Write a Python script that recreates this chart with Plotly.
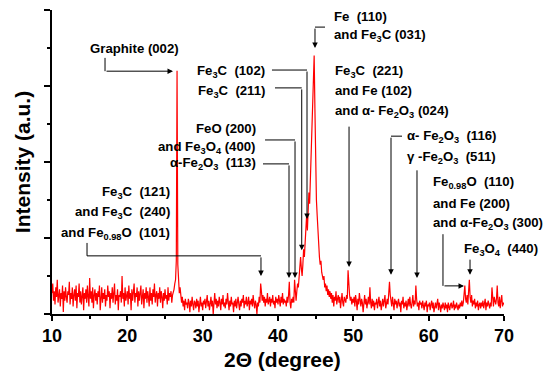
import numpy as np
import plotly.graph_objects as go

# ---- data: XRD pattern, 2-theta from 10 to 70 deg in 0.1 deg steps ----
two_theta = np.round(np.arange(10.0, 70.05, 0.1), 1)
intensity = [
    0.55, 0.8, 0.35, 0.6, 0.25, 0.7, 0.45, 0.9, 0.3, 0.5,      # 10
    0.65, 0.2, 0.55, 0.4, 0.75, 0.05, 0.6, 0.35, 0.7, 0.45,    # 11
    0.3, 0.6, 0.5, 0.85, 0.25, 0.55, 0.4, 0.7, 0.2, 0.5,       # 12
    0.65, 0.35, 0.75, 0.15, 0.55, 0.45, 0.8, 0.3, 0.6, 0.25,   # 13
    0.5, 0.7, 0.1, 0.55, 0.4, 0.65, 0.3, 0.75, 0.45, 0.2,      # 14
    0.95, 0.4, 0.6, 0.3, 0.7, 0.15, 0.5, 0.65, 0.35, 0.55,     # 15
    0.25, 0.6, 0.45, 0.75, 0.1, 0.5, 0.7, 0.3, 0.55, 0.4,      # 16
    0.65, 0.2, 0.5, 0.35, 0.75, 0.45, 0.6, 0.15, 0.55, 0.4,    # 17
    0.7, 0.3, 0.55, 0.8, 0.25, 0.5, 0.35, 0.65, 0.1, 0.5,      # 18
    0.45, 0.6, 0.3, 1.0, 0.4, 0.55, 0.2, 0.7, 0.35, 0.5,       # 19
    0.6, 0.25, 0.75, 0.4, 0.55, 0.1, 0.65, 0.35, 0.5, 0.8,     # 20
    0.3, 0.55, 0.45, 0.7, 0.2, 0.6, 0.35, 0.5, 0.75, 0.25,     # 21
    0.5, 0.65, 0.15, 0.55, 0.4, 0.7, 0.3, 0.6, 0.45, 0.2,      # 22
    0.7, 0.35, 0.55, 0.25, 0.65, 0.45, 0.8, 0.3, 0.5, 0.6,     # 23
    0.2, 0.55, 0.4, 0.7, 0.3, 0.6, 0.45, 0.15, 0.55, 0.35,     # 24
    0.65, 0.4, 0.5, 0.25, 0.7, 0.35, 0.55, 0.45, 0.6, 0.3,     # 25
    0.5, 0.55, 0.65, 0.8, 0.9, 1.4, 6.4, 1.3, 0.8, 0.55,       # 26
    0.7, 0.5, 0.3, 0.45, 0.2, 0.35, 0.1, 0.4, 0.25, 0.3,       # 27
    0.15, 0.4, 0.3, 0.05, 0.35, 0.2, 0.45, 0.25, 0.1, 0.35,    # 28
    0.3, 0.15, 0.4, 0.2, 0.35, 0.05, 0.3, 0.45, 0.2, 0.3,      # 29
    0.1, 0.35, 0.25, 0.4, 0.15, 0.3, 0.5, 0.2, 0.35, 0.1,      # 30
    0.3, 0.45, 0.2, 0.35, 0.0, 0.3, 0.55, 0.25, 0.4, 0.15,     # 31
    0.35, 0.2, 0.45, 0.3, 0.1, 0.4, 0.25, 0.5, 0.2, 0.3,       # 32
    0.15, 0.4, 0.25, 0.55, 0.3, 0.1, 0.35, 0.2, 0.45, 0.25,    # 33
    0.3, 0.05, 0.35, 0.2, 0.4, 0.15, 0.3, 0.45, 0.25, 0.1,     # 34
    0.35, 0.2, 0.4, 0.3, 0.5, 0.15, 0.35, 0.25, 0.45, 0.2,     # 35
    0.3, 0.45, 0.1, 0.35, 0.25, 0.4, 0.2, 0.5, 0.3, 0.15,      # 36
    0.35, 0.25, 0.0, 0.3, 0.2, 0.45, 0.3, 0.8, 0.6, 0.35,      # 37
    0.5, 0.3, 0.45, 0.2, 0.4, 0.3, 0.55, 0.25, 0.35, 0.45,     # 38
    0.2, 0.4, 0.3, 0.5, 0.25, 0.35, 0.15, 0.45, 0.3, 0.4,      # 39
    0.25, 0.5, 0.35, 0.2, 0.45, 0.3, 0.55, 0.25, 0.4, 0.3,     # 40
    0.35, 0.2, 0.45, 0.3, 0.5, 0.85, 0.3, 0.15, 0.4, 0.3,      # 41
    0.45, 0.3, 0.9, 0.5, 0.35, 0.6, 0.8, 0.7, 1.0, 1.2,        # 42
    1.5, 1.2, 1.0, 1.3, 1.7, 1.5, 2.0, 2.4, 2.6, 2.2,          # 43
    2.7, 3.2, 2.9, 3.6, 4.2, 4.6, 5.2, 5.8, 6.8, 5.4,          # 44
    3.8, 3.0, 2.6, 2.1, 1.8, 1.5, 1.3, 1.4, 1.1, 1.0,          # 45
    0.9, 1.0, 0.7, 0.8, 0.6, 0.75, 0.5, 0.65, 0.45, 0.6,       # 46
    0.4, 0.55, 0.3, 0.5, 0.2, 0.45, 0.35, 0.6, 0.25, 0.4,      # 47
    0.5, 0.3, 0.45, 0.15, 0.4, 0.55, 0.3, 0.2, 0.45, 0.35,     # 48
    0.3, 0.5, 0.4, 1.15, 0.7, 0.5, 0.35, 0.45, 0.25, 0.4,      # 49
    0.3, 0.45, 0.2, 0.5, 0.35, 0.1, 0.4, 0.25, 0.55, 0.3,      # 50
    0.2, 0.4, 0.3, 0.05, 0.35, 0.5, 0.25, 0.4, 0.15, 0.3,      # 51
    0.45, 0.25, 0.7, 0.3, 0.15, 0.4, 0.2, 0.35, 0.1, 0.3,      # 52
    0.25, 0.4, 0.15, 0.3, 0.45, 0.2, 0.35, 0.1, 0.3, 0.4,      # 53
    0.2, 0.35, 0.5, 0.15, 0.3, 0.4, 0.25, 0.45, 0.85, 0.5,     # 54
    0.35, 0.2, 0.45, 0.3, 0.1, 0.4, 0.25, 0.35, 0.15, 0.3,     # 55
    0.4, 0.2, 0.3, 0.05, 0.35, 0.25, 0.45, 0.15, 0.3, 0.2,     # 56
    0.35, 0.1, 0.3, 0.4, 0.2, 0.45, 0.25, 0.15, 0.3, 0.5,      # 57
    0.2, 0.35, 0.25, 0.75, 0.4, 0.2, 0.3, 0.1, 0.35, 0.25,     # 58
    0.3, 0.15, 0.35, 0.25, 0.1, 0.3, 0.2, 0.35, 0.05, 0.25,    # 59
    0.2, 0.3, 0.1, 0.25, 0.35, 0.15, 0.3, 0.05, 0.2, 0.3,      # 60
    0.15, 0.25, 0.4, 0.1, 0.3, 0.2, 0.05, 0.25, 0.15, 0.3,     # 61
    0.2, 0.1, 0.3, 0.15, 0.25, 0.05, 0.3, 0.2, 0.1, 0.25,      # 62
    0.3, 0.15, 0.2, 0.35, 0.1, 0.25, 0.15, 0.3, 0.2, 0.1,      # 63
    0.25, 0.15, 0.3, 0.2, 0.35, 0.2, 0.3, 0.45, 0.75, 0.4,     # 64
    0.3, 0.5, 0.25, 0.6, 0.9, 0.45, 0.3, 0.5, 0.2, 0.35,       # 65
    0.25, 0.4, 0.15, 0.3, 0.2, 0.35, 0.1, 0.25, 0.3, 0.15,     # 66
    0.3, 0.2, 0.35, 0.15, 0.25, 0.4, 0.1, 0.3, 0.2, 0.35,      # 67
    0.25, 0.15, 0.3, 0.2, 0.7, 0.35, 0.2, 0.45, 0.3, 0.25,     # 68
    0.4, 0.75, 0.3, 0.2, 0.45, 0.15, 0.35, 0.5, 0.2, 0.3,      # 69
    0.25,                                                      # 70
]

x_ticks = [10, 20, 30, 40, 50, 60, 70]

# ---- peak labels: (text, x, y, xanchor) ----
labels = [
    ("Graphite (002)", 21.0, 7.0, "center"),
    ("Fe<sub>3</sub>C\u00a0\u00a0(102)", 38.54, 6.39, "right"),
    ("Fe<sub>3</sub>C\u00a0\u00a0(211)", 38.54, 5.86, "right"),
    ("FeO (200)", 37.35, 4.87, "right"),
    ("and Fe<sub>3</sub>O<sub>4</sub> (400)", 37.35, 4.39, "right"),
    ("α-Fe<sub>2</sub>O<sub>3</sub>\u00a0\u00a0(113)", 37.35, 3.95, "right"),
    ("Fe<sub>3</sub>C\u00a0\u00a0(121)", 25.93, 3.21, "right"),
    ("and Fe<sub>3</sub>C\u00a0\u00a0(240)", 25.93, 2.68, "right"),
    ("and Fe<sub>0.98</sub>O\u00a0\u00a0(101)", 25.93, 2.13, "right"),
    ("Fe\u00a0\u00a0(110)", 47.17, 7.84, "left"),
    ("and Fe<sub>3</sub>C (031)", 47.17, 7.32, "left"),
    ("Fe<sub>3</sub>C\u00a0\u00a0(221)", 47.30, 6.39, "left"),
    ("and Fe (102)", 47.30, 5.89, "left"),
    ("and α- Fe<sub>2</sub>O<sub>3</sub> (024)", 47.30, 5.34, "left"),
    ("α- Fe<sub>2</sub>O<sub>3</sub>\u00a0\u00a0(116)", 56.86, 4.68, "left"),
    ("γ -Fe<sub>2</sub>O<sub>3</sub>\u00a0\u00a0(511)", 56.86, 4.13, "left"),
    ("Fe<sub>0.98</sub>O\u00a0\u00a0(110)", 60.31, 3.47, "left"),
    ("and Fe (200)", 60.31, 2.92, "left"),
    ("and α-Fe<sub>2</sub>O<sub>3</sub> (300)", 60.31, 2.39, "left"),
    ("Fe<sub>3</sub>O<sub>4</sub>\u00a0\u00a0(440)", 64.43, 1.71, "left"),
]

# ---- leader lines: polylines ending with an arrowhead at the last point ----
leaders = [
    [(17.04, 6.74), (17.04, 6.39), (26.06, 6.39)],
    [(39.2, 6.42), (43.85, 6.42), (43.85, 2.5)],
    [(39.6, 5.95), (43.15, 5.95), (43.15, 1.68)],
    [(38.28, 4.58), (42.26, 4.58), (42.26, 0.95)],
    [(38.01, 3.95), (41.46, 3.95), (41.46, 0.95)],
    [(14.65, 1.87), (14.65, 1.53), (37.74, 1.53), (37.74, 1.0)],
    [(46.24, 7.55), (44.91, 7.55), (44.91, 7.0)],
    [(49.43, 4.97), (49.43, 1.24)],
    [(56.46, 4.68), (55.0, 4.68), (55.0, 1.03)],
    [(58.45, 3.82), (58.45, 0.95)],
    [(61.9, 2.1), (61.9, 0.74), (64.69, 0.74)],
    [(65.49, 1.47), (65.49, 1.03)],
]

FONT = "Liberation Sans, Arial, sans-serif"

fig = go.Figure()
fig.add_trace(go.Scatter(
    x=two_theta, y=intensity, mode="lines",
    line=dict(color="#ff0000", width=1.2),
    showlegend=False, hoverinfo="skip",
))

annotations = []
for text, x, y, anchor in labels:
    annotations.append(dict(
        x=x, y=y, xref="x", yref="y", text=text, showarrow=False,
        xanchor=anchor, yanchor="middle",
        font=dict(family=FONT, size=13.2, color="black", weight="bold"),
    ))

shapes = []
for pts in leaders:
    if len(pts) > 2:
        path = "M " + " L ".join(f"{px},{py}" for px, py in pts[:-1])
        shapes.append(dict(type="path", path=path, xref="x", yref="y",
                           line=dict(color="black", width=1)))
    (tx, ty), (hx, hy) = pts[-2], pts[-1]
    annotations.append(dict(
        x=hx, y=hy, ax=tx, ay=ty, xref="x", yref="y", axref="x", ayref="y",
        text="", showarrow=True, arrowhead=2, arrowsize=1.1, arrowwidth=1,
        arrowcolor="black",
    ))

# axis titles
annotations.append(dict(
    x=0.509, y=-0.151, xref="paper", yref="paper", text="2Θ (degree)",
    showarrow=False, xanchor="center", yanchor="middle",
    font=dict(family=FONT, size=21, color="black", weight="bold"),
))
annotations.append(dict(
    x=-0.066, y=0.5, xref="paper", yref="paper", text="Intensity (a.u.)",
    showarrow=False, xanchor="center", yanchor="middle", textangle=-90,
    font=dict(family=FONT, size=21, color="black", weight="bold"),
))

fig.update_layout(
    width=544, height=374,
    margin=dict(l=52, r=40, t=10, b=60),
    paper_bgcolor="white", plot_bgcolor="white",
    annotations=annotations, shapes=shapes,
    xaxis=dict(
        range=[10, 70], tickvals=x_ticks, ticks="outside", ticklen=5,
        tickwidth=1.5, tickcolor="black", showline=True, linecolor="black",
        linewidth=1.5, showgrid=False, zeroline=False,
        tickfont=dict(family=FONT, size=18, color="black", weight="bold"),
        minor=dict(dtick=5, ticks="outside", ticklen=3, tickcolor="black",
                   tickwidth=1.5, showgrid=False),
    ),
    yaxis=dict(
        range=[0, 8], dtick=2, ticks="outside", ticklen=6, tickwidth=1.5,
        tickcolor="black", showline=True, linecolor="black", linewidth=1.5,
        showgrid=False, zeroline=False, showticklabels=False,
        minor=dict(dtick=1, ticks="outside", ticklen=3, tickcolor="black",
                   tickwidth=1.5, showgrid=False),
    ),
)

fig.write_html(
    "out.html",
    config={"displayModeBar": False},
    post_script="document.body.style.margin='0';document.body.style.overflow='hidden';",
)
